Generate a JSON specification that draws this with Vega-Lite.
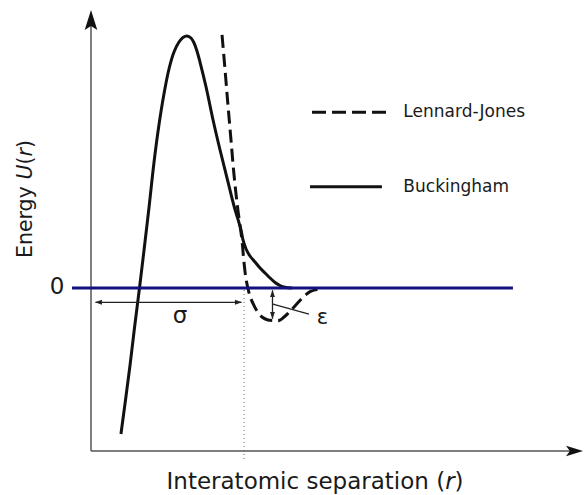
{
  "$schema": "https://vega.github.io/schema/vega-lite/v6.json",
  "width": 493,
  "height": 441,
  "autosize": {"type": "none"},
  "padding": {"left": 91, "top": 10, "right": 0, "bottom": 44},
  "background": "white",
  "config": {"view": {"stroke": null}, "text": {"font": "DejaVu Sans"}},
  "datasets": {
    "buck": [
      {"r": 0.197, "E": -4.424}, {"r": 0.227, "E": -3.394}, {"r": 0.257, "E": -2.333}, {"r": 0.286, "E": -1.212},
      {"r": 0.319, "E": 0.0}, {"r": 0.349, "E": 1.152}, {"r": 0.382, "E": 2.455}, {"r": 0.414, "E": 3.788},
      {"r": 0.447, "E": 4.939}, {"r": 0.480, "E": 5.879}, {"r": 0.513, "E": 6.636}, {"r": 0.546, "E": 7.152},
      {"r": 0.579, "E": 7.455}, {"r": 0.605, "E": 7.591}, {"r": 0.632, "E": 7.636}, {"r": 0.658, "E": 7.576},
      {"r": 0.678, "E": 7.424}, {"r": 0.697, "E": 7.182}, {"r": 0.717, "E": 6.848}, {"r": 0.757, "E": 6.091},
      {"r": 0.803, "E": 5.091}, {"r": 0.849, "E": 4.182}, {"r": 0.895, "E": 3.333}, {"r": 0.941, "E": 2.485},
      {"r": 0.987, "E": 1.758}, {"r": 1.000, "E": 1.455}, {"r": 1.020, "E": 1.182}, {"r": 1.046, "E": 0.970},
      {"r": 1.079, "E": 0.788}, {"r": 1.112, "E": 0.606}, {"r": 1.145, "E": 0.455}, {"r": 1.178, "E": 0.303},
      {"r": 1.211, "E": 0.167}, {"r": 1.243, "E": 0.076}, {"r": 1.276, "E": 0.021}, {"r": 1.322, "E": 0.0}
    ],
    "lj": [
      {"r": 0.862, "E": 7.667}, {"r": 0.882, "E": 6.606}, {"r": 0.901, "E": 5.545}, {"r": 0.921, "E": 4.485},
      {"r": 0.941, "E": 3.424}, {"r": 0.964, "E": 2.455}, {"r": 0.993, "E": 1.455}, {"r": 1.005, "E": 0.848},
      {"r": 1.020, "E": 0.273}, {"r": 1.035, "E": -0.061}, {"r": 1.049, "E": -0.288}, {"r": 1.066, "E": -0.470},
      {"r": 1.092, "E": -0.697}, {"r": 1.125, "E": -0.879}, {"r": 1.164, "E": -0.970}, {"r": 1.204, "E": -0.985},
      {"r": 1.237, "E": -0.985}, {"r": 1.270, "E": -0.879}, {"r": 1.296, "E": -0.767}, {"r": 1.342, "E": -0.545},
      {"r": 1.388, "E": -0.312}, {"r": 1.441, "E": -0.112}, {"r": 1.493, "E": -0.039}
    ],
    "rules": [
      {"id": "yaxis", "r": 0, "E": -4.9394, "r2": 0, "E2": 8.0},
      {"id": "xaxis", "r": 0, "E": -4.9394, "r2": 3.17, "E2": -4.9394},
      {"id": "dotted", "r": 1.007, "E": -0.06, "r2": 1.007, "E2": -5.21},
      {"id": "zero", "r": -0.125, "E": 0, "r2": 2.776, "E2": 0},
      {"id": "sigma", "r": 0.03, "E": -0.433, "r2": 0.99, "E2": -0.433},
      {"id": "eps", "r": 1.194, "E": -0.07, "r2": 1.194, "E2": -0.93},
      {"id": "leader", "r": 1.197, "E": -0.485, "r2": 1.434, "E2": -0.788},
      {"id": "legendLJ", "r": 1.454, "E": 5.324, "r2": 1.947, "E2": 5.324},
      {"id": "legendBuck", "r": 1.441, "E": 3.070, "r2": 1.914, "E2": 3.070}
    ],
    "heads": [
      {"id": "yaxis", "r": 0, "E": 8.1212},
      {"id": "xaxis", "r": 3.181, "E": -4.9394},
      {"id": "sigmaL", "r": 0.049, "E": -0.433},
      {"id": "sigmaR", "r": 0.970, "E": -0.433},
      {"id": "epsUp", "r": 1.194, "E": -0.167},
      {"id": "epsDown", "r": 1.194, "E": -0.833}
    ],
    "labels": [
      {"role": "ytitle", "text": "Energy ", "r": -0.385, "E": 0.909},
      {"role": "ytitle_it", "text": "U", "r": -0.385, "E": 3.291},
      {"role": "ytitle", "text": "(", "r": -0.385, "E": 3.745},
      {"role": "ytitle_it", "text": "r", "r": -0.385, "E": 3.988},
      {"role": "ytitle", "text": ")", "r": -0.385, "E": 4.242},
      {"role": "xtitle", "text": "Interatomic separation (", "r": 0.497, "E": -6.09},
      {"role": "xtitle_it", "text": "r", "r": 2.330, "E": -6.09},
      {"role": "xtitle", "text": ")", "r": 2.391, "E": -6.09},
      {"role": "tick", "text": "0", "r": -0.224, "E": -0.182},
      {"role": "sym23", "text": "σ", "r": 0.586, "E": -1.061},
      {"role": "sym21", "text": "ε", "r": 1.523, "E": -1.091},
      {"role": "legend", "text": "Lennard-Jones", "r": 2.055, "E": 5.182},
      {"role": "legend", "text": "Buckingham", "r": 2.055, "E": 2.909}
    ]
  },
  "encoding": {
    "x": {"field": "r", "type": "quantitative", "scale": {"domain": [0, 3.2434], "nice": false, "zero": false}, "axis": null},
    "y": {"field": "E", "type": "quantitative", "scale": {"domain": [-4.9394, 8.4242], "nice": false, "zero": false}, "axis": null}
  },
  "layer": [
    {
      "data": {"name": "rules"},
      "transform": [{"filter": "datum.id === 'yaxis' || datum.id === 'xaxis'"}],
      "mark": {"type": "rule", "color": "#555555", "strokeWidth": 1.5},
      "encoding": {"x2": {"field": "r2"}, "y2": {"field": "E2"}}
    },
    {
      "data": {"name": "rules"},
      "transform": [{"filter": "datum.id === 'dotted'"}],
      "mark": {"type": "rule", "color": "#666666", "strokeWidth": 1, "strokeDash": [1, 3]},
      "encoding": {"x2": {"field": "r2"}, "y2": {"field": "E2"}}
    },
    {
      "data": {"name": "buck"},
      "mark": {"type": "line", "color": "#111111", "strokeWidth": 3, "interpolate": "catmull-rom"},
      "encoding": {}
    },
    {
      "data": {"name": "lj"},
      "mark": {"type": "line", "color": "#111111", "strokeWidth": 3, "interpolate": "catmull-rom", "strokeDash": [13, 6]},
      "encoding": {}
    },
    {
      "data": {"name": "rules"},
      "transform": [{"filter": "datum.id === 'zero'"}],
      "mark": {"type": "rule", "color": "#12127e", "strokeWidth": 3},
      "encoding": {"x2": {"field": "r2"}, "y2": {"field": "E2"}}
    },
    {
      "data": {"name": "rules"},
      "transform": [{"filter": "datum.id === 'sigma' || datum.id === 'eps' || datum.id === 'leader'"}],
      "mark": {"type": "rule", "color": "#222222", "strokeWidth": 1.3},
      "encoding": {"x2": {"field": "r2"}, "y2": {"field": "E2"}}
    },
    {
      "data": {"name": "rules"},
      "transform": [{"filter": "datum.id === 'legendBuck'"}],
      "mark": {"type": "rule", "color": "#111111", "strokeWidth": 3},
      "encoding": {"x2": {"field": "r2"}, "y2": {"field": "E2"}}
    },
    {
      "data": {"name": "rules"},
      "transform": [{"filter": "datum.id === 'legendLJ'"}],
      "mark": {"type": "rule", "color": "#111111", "strokeWidth": 3, "strokeDash": [14, 6]},
      "encoding": {"x2": {"field": "r2"}, "y2": {"field": "E2"}}
    },
    {
      "data": {"name": "heads"},
      "transform": [{"filter": "datum.id === 'yaxis'"}],
      "mark": {"type": "point", "filled": true, "color": "#111111", "opacity": 1, "size": 400, "shape": "M 0 -1 L 0.63 1 L 0 0.6 L -0.63 1 Z"},
      "encoding": {}
    },
    {
      "data": {"name": "heads"},
      "transform": [{"filter": "datum.id === 'xaxis'"}],
      "mark": {"type": "point", "filled": true, "color": "#111111", "opacity": 1, "size": 289, "shape": "M 1 0 L -1 -0.62 L -0.55 0 L -1 0.62 Z"},
      "encoding": {}
    },
    {
      "data": {"name": "heads"},
      "transform": [{"filter": "datum.id !== 'xaxis' && datum.id !== 'yaxis'"}],
      "mark": {"type": "point", "filled": true, "color": "#222222", "opacity": 1, "size": 49},
      "encoding": {
        "shape": {
          "field": "id", "type": "nominal", "legend": null,
          "scale": {
            "domain": ["sigmaL", "sigmaR", "epsUp", "epsDown"],
            "range": ["M -1 0 L 1 -0.7 L 1 0.7 Z", "M 1 0 L -1 -0.7 L -1 0.7 Z", "M 0 -1 L -0.7 1 L 0.7 1 Z", "M 0 1 L -0.7 -1 L 0.7 -1 Z"]
          }
        }
      }
    },
    {
      "data": {"name": "labels"},
      "transform": [{"filter": "datum.role === 'ytitle'"}],
      "mark": {"type": "text", "angle": 270, "align": "left", "baseline": "alphabetic", "fontSize": 20.5, "color": "#1a1a1a"},
      "encoding": {"text": {"field": "text"}}
    },
    {
      "data": {"name": "labels"},
      "transform": [{"filter": "datum.role === 'ytitle_it'"}],
      "mark": {"type": "text", "angle": 270, "align": "left", "baseline": "alphabetic", "fontSize": 20.5, "fontStyle": "italic", "color": "#1a1a1a"},
      "encoding": {"text": {"field": "text"}}
    },
    {
      "data": {"name": "labels"},
      "transform": [{"filter": "datum.role === 'xtitle'"}],
      "mark": {"type": "text", "align": "left", "baseline": "alphabetic", "fontSize": 23, "color": "#1a1a1a"},
      "encoding": {"text": {"field": "text"}}
    },
    {
      "data": {"name": "labels"},
      "transform": [{"filter": "datum.role === 'xtitle_it'"}],
      "mark": {"type": "text", "align": "left", "baseline": "alphabetic", "fontSize": 23, "fontStyle": "italic", "color": "#1a1a1a"},
      "encoding": {"text": {"field": "text"}}
    },
    {
      "data": {"name": "labels"},
      "transform": [{"filter": "datum.role === 'tick' || datum.role === 'sym23'"}],
      "mark": {"type": "text", "align": "center", "baseline": "alphabetic", "fontSize": 23, "color": "#1a1a1a"},
      "encoding": {"text": {"field": "text"}}
    },
    {
      "data": {"name": "labels"},
      "transform": [{"filter": "datum.role === 'sym21'"}],
      "mark": {"type": "text", "align": "center", "baseline": "alphabetic", "fontSize": 21, "color": "#1a1a1a"},
      "encoding": {"text": {"field": "text"}}
    },
    {
      "data": {"name": "labels"},
      "transform": [{"filter": "datum.role === 'legend'"}],
      "mark": {"type": "text", "align": "left", "baseline": "alphabetic", "fontSize": 17, "color": "#1a1a1a"},
      "encoding": {"text": {"field": "text"}}
    }
  ]
}
